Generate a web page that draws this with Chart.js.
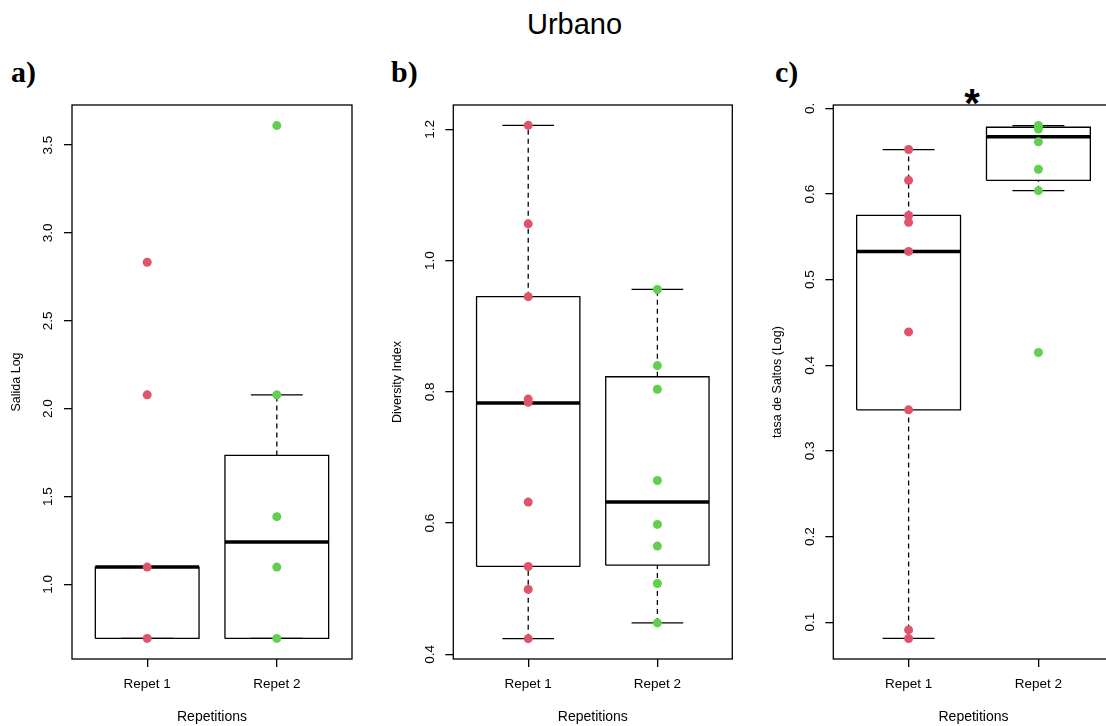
<!DOCTYPE html>
<html lang="es">
<head>
    <meta charset="UTF-8">
    <title>Urbano</title>
    <script src="https://cdn.jsdelivr.net/npm/chart.js"></script>
    <style>
        html, body {
            margin: 0;
            padding: 0;
            background: #fff;
            width: 1106px;
            height: 726px;
            overflow: hidden;
            position: relative;
        }
        .panel { position: absolute; top: 0; }
        #mainTitle {
            position: absolute;
            left: 0;
            width: 1149px;
            top: 10px;
            text-align: center;
            font: 29px "Liberation Sans", Arial, sans-serif;
            line-height: 29px;
        }
        .tag {
            position: absolute;
            top: 57px;
            font: bold 30px "Liberation Serif", "Times New Roman", serif;
            line-height: 30px;
        }
        #star {
            position: absolute;
            left: 922px;
            width: 100px;
            top: 83px;
            text-align: center;
            font: bold 40px "Liberation Sans", Arial, sans-serif;
            line-height: 40px;
        }
    </style>
</head>
<body>
    <div id="mainTitle">Urbano</div>
    <div class="tag" style="left:11px">a)</div>
    <div class="tag" style="left:391px">b)</div>
    <div class="tag" style="left:775px">c)</div>
    <div id="star">*</div>

    <canvas id="chartA" class="panel" style="left:0px" width="370" height="726"></canvas>
    <canvas id="chartB" class="panel" style="left:370px" width="380" height="726"></canvas>
    <canvas id="chartC" class="panel" style="left:750px" width="370" height="726"></canvas>

    <script>
        const categories = ['Repet 1', 'Repet 2'];
        const redColor = '#DF536B';
        const greenColor = '#61D04F';

        // a) Salida Log
        const salidaRepet1 = [2.833, 2.079, 1.099, 0.693];
        const salidaRepet2 = [3.611, 2.079, 1.386, 1.099, 0.693];
        // boxplot: [bigote inf, Q1, mediana, Q3, bigote sup]
        const salidaStats1 = [0.693, 0.693, 1.099, 1.099, 1.099];
        const salidaStats2 = [0.693, 0.693, 1.241, 1.734, 2.079];
        const salidaTicks = [1.0, 1.5, 2.0, 2.5, 3.0, 3.5];
        const salidaTickLabels = ['1.0', '1.5', '2.0', '2.5', '3.0', '3.5'];
        const salidaRange = [0.576, 3.728];

        // b) Diversity Index
        const diversityRepet1 = [1.206, 1.056, 0.945, 0.789, 0.784, 0.632, 0.534, 0.499, 0.424];
        const diversityRepet2 = [0.956, 0.840, 0.804, 0.665, 0.598, 0.565, 0.508, 0.448];
        const diversityStats1 = [0.424, 0.534, 0.783, 0.945, 1.206];
        const diversityStats2 = [0.448, 0.536, 0.632, 0.823, 0.956];
        const diversityTicks = [0.4, 0.6, 0.8, 1.0, 1.2];
        const diversityTickLabels = ['0.4', '0.6', '0.8', '1.0', '1.2'];
        const diversityRange = [0.393, 1.237];

        // c) tasa de Saltos (Log)
        const saltosRepet1 = [0.652, 0.616, 0.575, 0.567, 0.533, 0.439, 0.348, 0.091, 0.081];
        const saltosRepet2 = [0.680, 0.676, 0.661, 0.629, 0.604, 0.415];
        const saltosStats1 = [0.081, 0.348, 0.533, 0.575, 0.652];
        const saltosStats2 = [0.604, 0.616, 0.667, 0.678, 0.680];
        const saltosTicks = [0.1, 0.2, 0.3, 0.4, 0.5, 0.6, 0.7];
        const saltosTickLabels = ['0.1', '0.2', '0.3', '0.4', '0.5', '0.6', '0.'];
        const saltosRange = [0.057, 0.704];

        Chart.defaults.font.family = '"Liberation Sans", Arial, sans-serif';
        Chart.defaults.color = '#000';
        Chart.defaults.animation = false;

        // marco del grafico (box de R)
        const framePlugin = {
            id: 'plotFrame',
            afterDatasetsDraw(chart) {
                const { ctx, chartArea: a } = chart;
                ctx.save();
                ctx.strokeStyle = '#000';
                ctx.lineWidth = 1.3;
                ctx.strokeRect(a.left, a.top, a.right - a.left, a.bottom - a.top);
                ctx.restore();
            }
        };

        function boxDatasets(pos, stats) {
            const [lo, q1, med, q3, hi] = stats;
            const half = 0.4, cap = 0.2;
            const base = {
                showLine: true, pointRadius: 0, borderColor: '#000', borderWidth: 1.3,
                borderJoinStyle: 'miter', fill: false, order: 1
            };
            return [
                { ...base, data: [{ x: pos - half, y: q1 }, { x: pos + half, y: q1 }, { x: pos + half, y: q3 }, { x: pos - half, y: q3 }, { x: pos - half, y: q1 }] },
                { ...base, borderDash: [5, 4], data: [{ x: pos, y: q3 }, { x: pos, y: hi }] },
                { ...base, borderDash: [5, 4], data: [{ x: pos, y: lo }, { x: pos, y: q1 }] },
                { ...base, data: [{ x: pos - cap, y: hi }, { x: pos + cap, y: hi }] },
                { ...base, data: [{ x: pos - cap, y: lo }, { x: pos + cap, y: lo }] },
                { ...base, borderWidth: 3.5, borderCapStyle: 'butt', data: [{ x: pos - half, y: med }, { x: pos + half, y: med }] }
            ];
        }

        function pointDataset(pos, values, color) {
            return {
                data: values.map(v => ({ x: pos, y: v })),
                backgroundColor: color, borderColor: color, borderWidth: 0,
                pointRadius: 4.5, order: 0
            };
        }

        function makePanel(canvasId, opts) {
            const colors = [redColor, greenColor];
            let datasets = [];
            opts.values.forEach((vals, i) => datasets.push(pointDataset(i + 1, vals, colors[i])));
            opts.stats.forEach((st, i) => { datasets = datasets.concat(boxDatasets(i + 1, st)); });

            return new Chart(document.getElementById(canvasId), {
                type: 'scatter',
                data: { datasets: datasets },
                options: {
                    responsive: false,
                    layout: { padding: { top: 105, bottom: 0, left: 0, right: opts.padRight } },
                    plugins: { legend: { display: false }, tooltip: { enabled: false } },
                    scales: {
                        x: {
                            type: 'linear', min: 0.42, max: 2.58,
                            afterBuildTicks: s => { s.ticks = categories.map((c, i) => ({ value: i + 1 })); },
                            afterFit: s => { s.height = 67; },
                            ticks: {
                                callback: (v, i) => categories[i],
                                font: { size: 13.5 }, padding: 9, maxRotation: 0, autoSkip: false, color: '#000'
                            },
                            grid: { drawOnChartArea: false, tickLength: 8, color: '#000', lineWidth: 1.3 },
                            border: { display: false },
                            title: { display: true, text: 'Repetitions', font: { size: 14 }, color: '#000', padding: { top: 0, bottom: 0 } }
                        },
                        y: {
                            min: opts.range[0], max: opts.range[1],
                            afterBuildTicks: s => { s.ticks = opts.ticks.map(v => ({ value: v })); },
                            afterFit: s => { s.width = opts.yWidth; },
                            ticks: {
                                callback: (v, i) => opts.tickLabels[i],
                                minRotation: 90, maxRotation: 90, crossAlign: 'center',
                                font: { size: 13.5 }, padding: 6, autoSkip: false, color: '#000'
                            },
                            grid: { drawOnChartArea: false, tickLength: 8, color: '#000', lineWidth: 1.3 },
                            border: { display: false },
                            title: { display: true, text: opts.yTitle, font: { size: 12.5 }, color: '#000', padding: { top: opts.titlePad, bottom: 0 } }
                        }
                    }
                },
                plugins: [framePlugin]
            });
        }

        makePanel('chartA', {
            values: [salidaRepet1, salidaRepet2],
            stats: [salidaStats1, salidaStats2],
            range: salidaRange, ticks: salidaTicks, tickLabels: salidaTickLabels,
            yTitle: 'Salida Log', yWidth: 72, padRight: 18, titlePad: 9.5
        });

        makePanel('chartB', {
            values: [diversityRepet1, diversityRepet2],
            stats: [diversityStats1, diversityStats2],
            range: diversityRange, ticks: diversityTicks, tickLabels: diversityTickLabels,
            yTitle: 'Diversity Index', yWidth: 83.3, padRight: 17.7, titlePad: 20.5
        });

        makePanel('chartC', {
            values: [saltosRepet1, saltosRepet2],
            stats: [saltosStats1, saltosStats2],
            range: saltosRange, ticks: saltosTicks, tickLabels: saltosTickLabels,
            yTitle: 'tasa de Saltos (Log)', yWidth: 83.3, padRight: 6.3, titlePad: 20.5
        });
    </script>
</body>
</html>
